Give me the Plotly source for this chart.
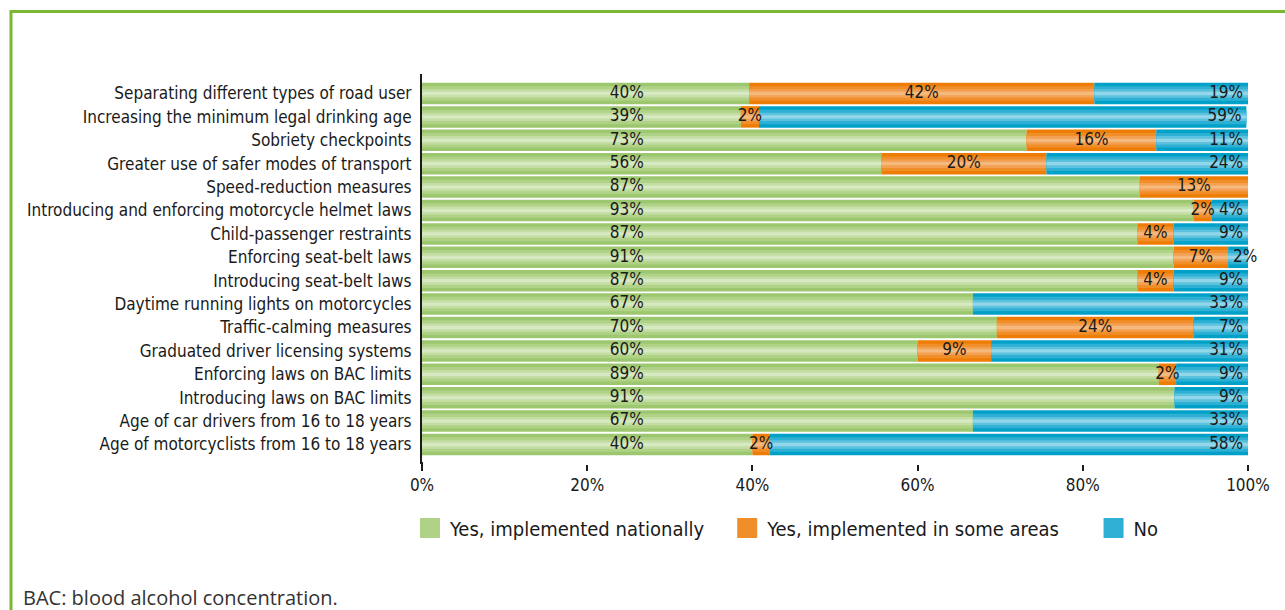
import plotly.graph_objects as go

categories = [
    "Separating different types of road user",
    "Increasing the minimum legal drinking age",
    "Sobriety checkpoints",
    "Greater use of safer modes of transport",
    "Speed-reduction measures",
    "Introducing and enforcing motorcycle helmet laws",
    "Child-passenger restraints",
    "Enforcing seat-belt laws",
    "Introducing seat-belt laws",
    "Daytime running lights on motorcycles",
    "Traffic-calming measures",
    "Graduated driver licensing systems",
    "Enforcing laws on BAC limits",
    "Introducing laws on BAC limits",
    "Age of car drivers from 16 to 18 years",
    "Age of motorcyclists from 16 to 18 years",
]
national = [39.6, 38.6, 73.2, 55.6, 86.9, 93.4, 86.6, 91.0, 86.6, 66.7, 69.6, 60.0, 89.2, 91.1, 66.7, 40.0]
some_areas = [41.8, 2.2, 15.7, 20.0, 13.1, 2.2, 4.4, 6.6, 4.4, 0.0, 23.8, 8.9, 2.1, 0.0, 0.0, 2.1]
no = [18.6, 59.0, 11.1, 24.4, 0.0, 4.4, 9.0, 2.4, 9.0, 33.3, 6.6, 31.1, 8.7, 8.9, 33.3, 57.9]
series_names = ["Yes, implemented nationally", "Yes, implemented in some areas", "No"]
legend_pad = [3, 5, 0]  # non-breaking spaces appended for legend spacing
tick_vals = [0, 20, 40, 60, 80, 100]
tick_text = ["0%", "20%", "40%", "60%", "80%", "100%"]
footnote = "BAC: blood alcohol concentration."

FONT = "Liberation Sans Narrow, Arial Narrow, DejaVu Sans Condensed, sans-serif"
# gradient steps from edge to centre
PALETTES = [
    ["#9cc76f", "#afd287", "#c3dda3", "#d7e9c2"],
    ["#ee7d05", "#f08e2a", "#f3a052", "#f6b97d"],
    ["#00a0c8", "#2db0d3", "#5cc2de", "#93d6ea"],
]
WIDTHS = [0.92, 0.62, 0.36, 0.14]
GREEN_LABEL_X = 24.8
SMALL = 3.0

series = [national, some_areas, no]
bases = []
cum = [0.0] * len(categories)
for vals in series:
    bases.append(list(cum))
    cum = [round(c + v, 6) for c, v in zip(cum, vals)]

fig = go.Figure()
for vals, base, pal, name in zip(series, bases, PALETTES, series_names):
    for w, col in zip(WIDTHS, pal):
        fig.add_trace(go.Bar(
            y=categories, x=vals, base=base, orientation="h", width=w,
            marker=dict(color=col, line=dict(width=0)), showlegend=False,
            hoverinfo="skip",
        ))

def pct(v):
    return f"{round(v)}%" if v > 0 else ""

text_font = dict(family=FONT, size=17, color="#1a1a1a")
fig.add_trace(go.Scatter(
    y=categories, x=[GREEN_LABEL_X] * len(categories), mode="text",
    text=[pct(v) for v in national], textposition="middle center",
    textfont=text_font, showlegend=False, hoverinfo="skip"))
fig.add_trace(go.Scatter(
    y=categories, x=[b + v / 2 for b, v in zip(bases[1], some_areas)], mode="text",
    text=[pct(v) for v in some_areas], textposition="middle center",
    textfont=text_font, showlegend=False, hoverinfo="skip"))
fig.add_trace(go.Scatter(
    y=categories,
    x=[b if 0 < v < SMALL else min(round(b + v, 6), 100) for b, v in zip(bases[2], no)],
    mode="text", cliponaxis=False,
    text=["\u00a0" + pct(v) if 0 < v < SMALL else pct(v) + " " for v in no],
    textposition=["middle right" if 0 < v < SMALL else "middle left" for v in no],
    textfont=text_font, showlegend=False, hoverinfo="skip"))

for pal, name, pad in zip(PALETTES, series_names, legend_pad):
    fig.add_trace(go.Scatter(
        x=[None], y=[None], mode="markers", name=name + "\u00a0" * pad,
        marker=dict(symbol="square", size=16, color=pal[1], line=dict(width=4, color=pal[1])),
    ))

L, R, T, B = 422, 37, 74, 146
W, H = 1285, 610
pw = W - L - R
ph = H - T - B

def px_x(px):
    return (px - L) / pw

def px_y(py):
    return (H - B - py) / ph

fig.update_layout(
    width=W, height=H,
    margin=dict(l=L, r=R, t=T, b=B),
    barmode="overlay",
    paper_bgcolor="white", plot_bgcolor="white",
    font=dict(family=FONT, size=17, color="#1a1a1a"),
    showlegend=True,
    legend=dict(orientation="h", x=px_x(410), xanchor="left", y=px_y(528), yanchor="middle",
                font=dict(family=FONT, size=20, color="#1a1a1a"), itemsizing="trace",
                bgcolor="rgba(0,0,0,0)"),
    xaxis=dict(range=[0, 100], tickvals=tick_vals, ticktext=tick_text, showgrid=False,
               zeroline=False, showline=False, ticks="outside", ticklen=6, tickwidth=2,
               tickcolor="#1a1a1a", tickfont=dict(size=17), fixedrange=True),
    yaxis=dict(autorange="reversed", showgrid=False, zeroline=False, showline=True,
               linecolor="#1a1a1a", linewidth=2, ticks="", ticklabelstandoff=5,
               tickfont=dict(size=17), fixedrange=True),
    shapes=[
        dict(type="line", xref="paper", yref="paper", x0=px_x(11), x1=px_x(11),
             y0=px_y(10), y1=px_y(640), line=dict(color="#7ab834", width=3)),
        dict(type="line", xref="paper", yref="paper", x0=px_x(10), x1=px_x(1320),
             y0=px_y(11.5), y1=px_y(11.5), line=dict(color="#7ab834", width=3)),
        dict(type="line", xref="paper", yref="paper", x0=0, x1=0,
             y0=px_y(462), y1=px_y(469), line=dict(color="#1a1a1a", width=2)),
    ],
    annotations=[
        dict(text=footnote, xref="paper", yref="paper", x=px_x(21), y=px_y(597),
             xanchor="left", yanchor="middle", showarrow=False,
             font=dict(family="Open Sans, Noto Sans, sans-serif", size=20, color="#333333")),
    ],
)

fig.write_html(
    "out.html",
    config={"displayModeBar": False},
    post_script="document.body.style.margin='0';document.body.style.overflow='hidden';",
)
